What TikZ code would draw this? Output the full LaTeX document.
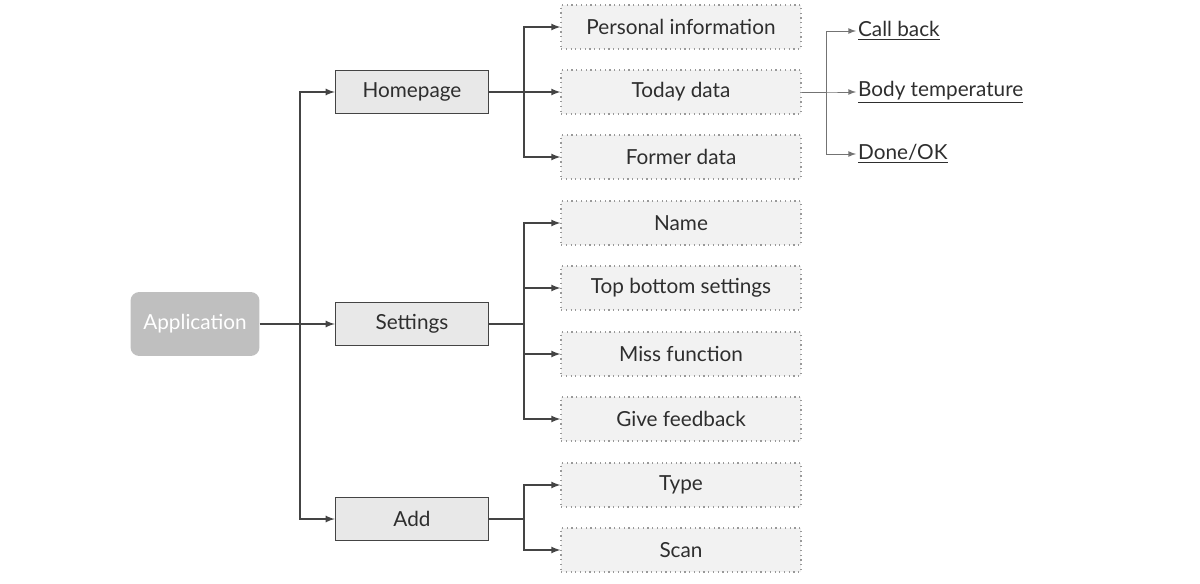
\documentclass[tikz,border=0pt]{standalone}
\usepackage{fontspec}
\setmainfont{Lato}
\usetikzlibrary{arrows}
\usetikzlibrary{positioning}
\definecolor{appgray}{HTML}{BFBFBF}
\definecolor{midgray}{HTML}{E8E8E8}
\definecolor{leafgray}{HTML}{F2F2F2}
\definecolor{linegray}{HTML}{444444}
\definecolor{txtgray}{HTML}{2E2E2E}
\begin{document}
\begin{tikzpicture}[x=0.02cm, y=-0.02cm, >=latex,
    every node/.style={font=\fontsize{11.8}{14}\selectfont, text=txtgray},
    appbox/.style={rectangle, rounded corners=5pt, fill=appgray, text=white,
      minimum width=2.58cm, minimum height=1.28cm},
    midbox/.style={rectangle, draw=linegray, line width=0.8pt, fill=midgray,
      minimum width=3.06cm, minimum height=0.86cm},
    leafbox/.style={rectangle, draw=black!40, dotted, line width=0.7pt, fill=leafgray,
      minimum width=4.8cm, minimum height=0.88cm},
    sublabel/.style={anchor=west, inner sep=1pt},
    link/.style={->, draw=linegray, line width=0.8pt},
    thinlink/.style={->, draw=black!55, line width=0.5pt}]

  \useasboundingbox (0,0) rectangle (1200,584);

  % root and first level
  \node[appbox] (app) at (195,324) {Application};
  \node[midbox] (home) at (412,92) {Homepage};
  \node[midbox] (sett) at (412,324) {Settings};
  \node[midbox] (add) at (412,519) {Add};

  % leaves
  \node[leafbox] (pinfo) at (681,27) {Personal information};
  \node[leafbox] (today) at (681,92) {Today data};
  \node[leafbox] (former) at (681,157) {Former data};
  \node[leafbox] (name) at (681,223) {Name};
  \node[leafbox] (topbot) at (681,288) {Top bottom settings};
  \node[leafbox] (miss) at (681,354) {Miss function};
  \node[leafbox] (feed) at (681,419) {Give feedback};
  \node[leafbox] (type) at (681,485) {Type};
  \node[leafbox] (scan) at (681,550) {Scan};

  % today data details
  \node[sublabel] (callb) at (856,31) {\underline{Call back}};
  \node[sublabel] (bodyt) at (856,92) {\underline{Body temperature}};
  \node[sublabel] (done) at (856,154) {\underline{Done/OK}};

  \draw[link] (app.east) -- (sett.west);
  \draw[link] (app.east) -- ++(40,0) |- (home.west);
  \draw[link] (app.east) -- ++(40,0) |- (add.west);

  \foreach \leaf in {pinfo,today,former}
    \draw[link] (home.east) -- ++(35,0) |- (\leaf.west);
  \foreach \leaf in {name,topbot,miss,feed}
    \draw[link] (sett.east) -- ++(35,0) |- (\leaf.west);
  \foreach \leaf in {type,scan}
    \draw[link] (add.east) -- ++(35,0) |- (\leaf.west);

  \foreach \sub in {callb,bodyt,done}
    \draw[thinlink] (today.east) -- ++(25,0) |- (\sub.west);
\end{tikzpicture}
\end{document}
